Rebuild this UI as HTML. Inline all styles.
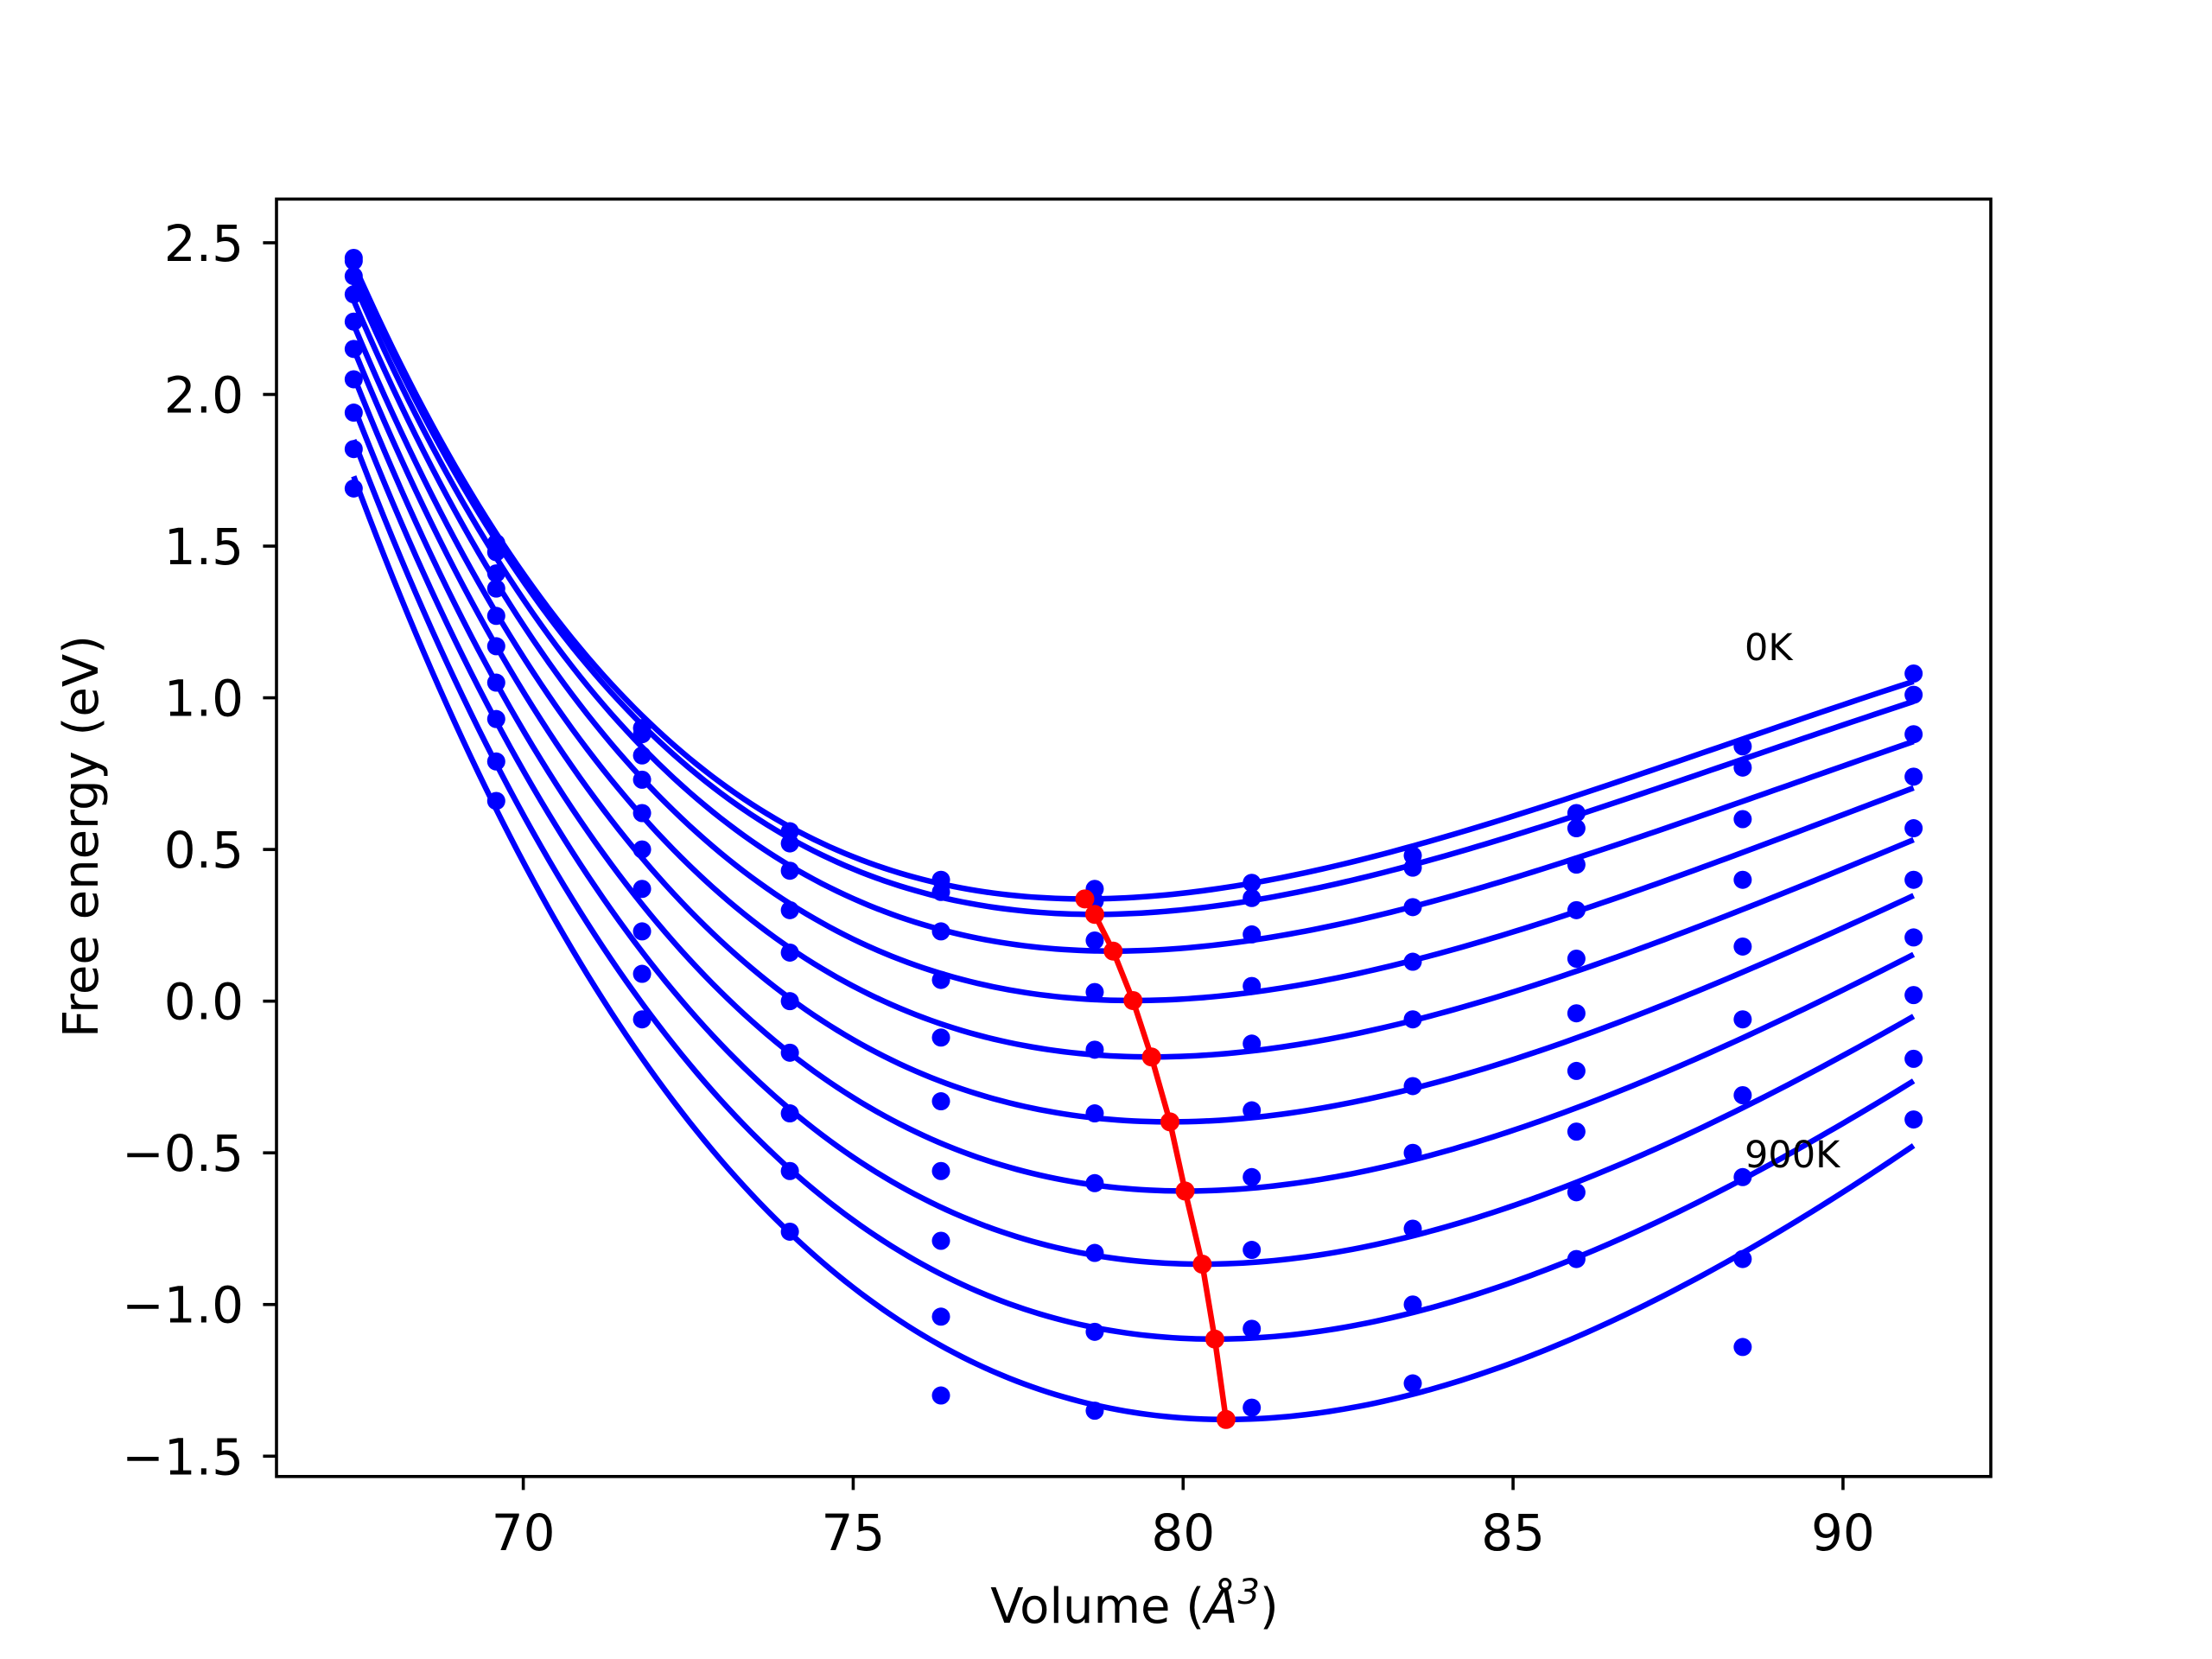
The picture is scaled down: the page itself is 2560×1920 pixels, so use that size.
<!DOCTYPE html>
<html><head><meta charset="utf-8">
<style>
html,body{margin:0;padding:0;background:#fff;}
svg{display:block;font-family:"DejaVu Sans","Liberation Sans",sans-serif;}
</style></head>
<body>
<svg id="chart" width="2560" height="1920" viewBox="0 0 2560 1920" xmlns="http://www.w3.org/2000/svg">
<rect x="0" y="0" width="2560" height="1920" fill="#fff"/>
<g id="plot"></g>
<g id="axes"></g>
</svg>
<script>
const volumes = [67.43, 69.59, 71.80, 74.04, 76.33, 78.66, 81.04, 83.48, 85.96, 88.48, 91.07];
const temps = ["0K","100K","200K","300K","400K","500K","600K","700K","800K","900K"];
const E0K   = [2.45, 1.51, 0.90, 0.56, 0.40, 0.37, 0.39, 0.48, 0.62, 0.84, 1.08];
const E100K = [2.44, 1.48, 0.88, 0.52, 0.36, 0.33, 0.34, 0.44, 0.57, 0.77, 1.01];
const E200K = [2.39, 1.41, 0.81, 0.43, 0.23, 0.20, 0.22, 0.31, 0.45, 0.60, 0.88];
const E300K = [2.33, 1.36, 0.73, 0.30, 0.07, 0.03, 0.05, 0.13, 0.30, 0.40, 0.74];
const E400K = [2.24, 1.27, 0.62, 0.16, -0.12, -0.16, -0.14, -0.06, 0.14, 0.18, 0.57];
const E500K = [2.15, 1.17, 0.50, 0.00, -0.33, -0.37, -0.36, -0.28, -0.04, -0.06, 0.40];
const E600K = [2.05, 1.05, 0.37, -0.17, -0.56, -0.60, -0.58, -0.50, -0.23, -0.31, 0.21];
const E700K = [1.94, 0.93, 0.23, -0.37, -0.79, -0.83, -0.82, -0.75, -0.43, -0.58, 0.02];
const E800K = [1.82, 0.79, 0.09, -0.56, -1.04, -1.09, -1.08, -1.00, -0.63, -0.85, -0.19];
const E900K = [1.69, 0.66, -0.06, -0.76, -1.30, -1.35, -1.34, -1.26, -0.85, -1.14, -0.39];
const pointSeries = [E0K,E100K,E200K,E300K,E400K,E500K,E600K,E700K,E800K,E900K];
const minVolume = [78.51, 78.66, 78.94, 79.24, 79.52, 79.80, 80.03, 80.29, 80.48, 80.65];
const minEnergy = [0.337, 0.286, 0.165, 0.002, -0.184, -0.398, -0.626, -0.867, -1.114, -1.379];
const fitLeftEnergy  = [2.43, 2.41, 2.37, 2.31, 2.23, 2.15, 2.06, 1.96, 1.85, 1.73];
const fitRightEnergy = [1.054, 0.988, 0.856, 0.703, 0.532, 0.348, 0.154, -0.050, -0.263, -0.476];
const xTicks = [70, 75, 80, 85, 90];
const yTicks = [2.5, 2.0, 1.5, 1.0, 0.5, 0.0, -0.5, -1.0, -1.5];
const yTickLabels = ["2.5","2.0","1.5","1.0","0.5","0.0","\u22120.5","\u22121.0","\u22121.5"];

const NS = "http://www.w3.org/2000/svg";
const L = 320, R = 2304, T = 230.4, B = 1708.8;
const xMin = 66.26, xMax = 92.24, yMin = -1.567, yMax = 2.644;
function sx(v){ return L + (v - xMin) / (xMax - xMin) * (R - L); }
function sy(e){ return B - (e - yMin) / (yMax - yMin) * (B - T); }
function mk(tag, attrs, parent){
  const el = document.createElementNS(NS, tag);
  for (const k in attrs) el.setAttribute(k, attrs[k]);
  parent.appendChild(el); return el;
}
const plot = document.getElementById('plot');
const axes = document.getElementById('axes');
const defs = mk('defs', {}, document.getElementById('chart'));
const cp = mk('clipPath', {id:'clip'}, defs);
mk('rect', {x:L, y:T, width:R-L, height:B-T}, cp);
plot.setAttribute('clip-path', 'url(#clip)');

function bmTerms(V0, V){
  const eta = Math.pow(V0 / V, 2/3), x = eta - 1;
  return [x*x*x, x*x*(6 - 4*eta)];
}
const vLeft = volumes[0], vRight = volumes[volumes.length-1];
for (let i = 0; i < temps.length; i++){
  const V0 = minVolume[i], E0 = minEnergy[i];
  const [aL, bL] = bmTerms(V0, vLeft), [aR, bR] = bmTerms(V0, vRight);
  const dL = fitLeftEnergy[i] - E0, dR = fitRightEnergy[i] - E0;
  const det = aL*bR - aR*bL;
  const Q = (dL*bR - dR*bL) / det, P = (aL*dR - aR*dL) / det;
  let d = "";
  const n = 200;
  for (let k = 0; k <= n; k++){
    const V = vLeft + (vRight - vLeft) * k / n;
    const [a, b] = bmTerms(V0, V);
    const E = E0 + Q*a + P*b;
    d += (k ? "L" : "M") + sx(V).toFixed(2) + "," + sy(E).toFixed(2);
  }
  const path = mk('path', {d:d, fill:'none', stroke:'#0000ff', 'stroke-width':6.5, 'stroke-linejoin':'round'}, plot);
  
  
}
for (let i = 0; i < pointSeries.length; i++){
  const s = pointSeries[i];
  for (let j = 0; j < volumes.length; j++){
    const c = mk('circle', {cx:sx(volumes[j]), cy:sy(s[j]), r:10.5, fill:'#0000ff'}, plot);
    
    
  }
}
let rd = "";
for (let i = 0; i < minVolume.length; i++) rd += (i ? "L" : "M") + sx(minVolume[i]).toFixed(2) + "," + sy(minEnergy[i]).toFixed(2);
const rl = mk('path', {d:rd, fill:'none', stroke:'#ff0000', 'stroke-width':6.5, 'stroke-linejoin':'round'}, plot);


for (let i = 0; i < minVolume.length; i++){
  const c = mk('circle', {cx:sx(minVolume[i]), cy:sy(minEnergy[i]), r:11, fill:'#ff0000'}, plot);
  
  
}
const t0 = mk('text', {x:2019, y:764, 'font-size':43, fill:'#000'}, plot);
t0.textContent = "0K";


const t9 = mk('text', {x:2019, y:1351, 'font-size':43, fill:'#000'}, plot);
t9.textContent = "900K";



const fr = mk('rect', {x:L, y:T, width:R-L, height:B-T, fill:'none', stroke:'#000', 'stroke-width':3.6}, axes);


for (const v of xTicks){
  const X = sx(v);
  const tk = mk('line', {x1:X, x2:X, y1:B, y2:B+15.6, stroke:'#000', 'stroke-width':3.6}, axes);
  
  
  const tx = mk('text', {x:X, y:1794, 'font-size':58, 'text-anchor':'middle', fill:'#000'}, axes);
  tx.textContent = String(v);
  
  
}
for (let i = 0; i < yTicks.length; i++){
  const Y = sy(yTicks[i]);
  const tk = mk('line', {x1:L-15.6, x2:L, y1:Y, y2:Y, stroke:'#000', 'stroke-width':3.6}, axes);
  
  
  const tx = mk('text', {x:L-38, y:Y+21, 'font-size':58, 'text-anchor':'end', fill:'#000'}, axes);
  tx.textContent = yTickLabels[i];
  
  
}
const xl = mk('text', {x:1313, y:1878, 'font-size':56, 'text-anchor':'middle', fill:'#000'}, axes);
xl.innerHTML = 'Volume (<tspan font-style="italic">Å</tspan><tspan font-size="40" dy="-22" font-style="italic">3</tspan><tspan dy="22">)</tspan>';


const yl = mk('text', {x:0, y:0, 'font-size':56, 'text-anchor':'middle', fill:'#000', transform:'translate(113,968) rotate(-90)'}, axes);
yl.textContent = "Free energy (eV)";


</script>
</body></html>
